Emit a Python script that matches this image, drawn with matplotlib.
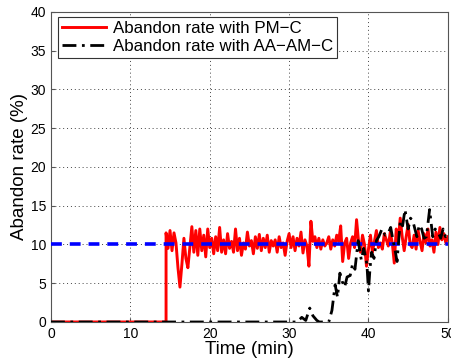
import matplotlib as mpl
mpl.use('Agg')
import matplotlib.pyplot as plt
import numpy as np

plt.rcParams['font.family'] = ['Liberation Sans', 'DejaVu Sans']

# PM-C abandon rate, 0.25 min samples starting at 14.5 min
pmc_start = 14.5
pmc_step = 0.25
pmc_rate = [
    11.5, 9.5, 11.8, 9.2, 11.5, 10.2,
    7.0, 4.5, 7.5, 10.8, 8.2, 7.0, 9.6, 12.3,
    9.0, 11.8, 8.6, 12.0, 9.2, 11.2, 8.4, 12.0,
    9.6, 10.8, 8.8, 11.0, 9.2, 12.2, 9.0, 10.6,
    8.8, 11.4, 9.5, 10.4, 9.0, 12.0, 9.2, 10.8,
    8.6, 10.2, 9.4, 11.6, 9.8, 10.5, 8.8, 11.0,
    9.5, 11.3, 9.2, 10.8, 9.6, 11.2, 9.0, 10.5,
    9.8, 10.6, 9.0, 11.0, 9.6, 10.2, 8.6, 10.4,
    11.4, 9.6, 11.0, 9.2, 10.8, 9.8, 11.6, 8.9,
    10.6, 9.8, 7.2, 13.0, 10.4, 11.0, 9.6, 10.8,
    9.4, 10.6, 9.8, 10.2, 11.0, 9.4, 10.6, 9.8,
    11.2, 10.4, 12.4, 7.8, 10.2, 10.8, 8.2, 10.2,
    11.0, 9.6, 13.2, 10.4, 9.0, 11.2, 10.0, 7.2,
    9.4, 11.2, 9.0, 10.4, 11.8, 9.6, 10.2, 9.4,
    11.4, 10.6, 9.8, 11.6, 10.2, 7.6, 12.0, 10.4,
    13.4, 11.0, 9.2, 11.0, 12.6, 10.0, 9.6, 11.2,
    9.4, 11.8, 10.4, 9.2, 11.4, 10.2, 12.0, 9.8,
    10.6, 9.0, 11.6, 10.0, 12.2, 10.6, 11.4, 10.2,
    11.0,
]

# AA-AM-C abandon rate
aam_time = [0, 31.0, 31.6, 32.1, 32.6, 33.0, 33.5, 33.8, 35.0, 35.4, 35.8,
            36.1, 36.4, 36.7, 37.0, 37.3, 37.7, 38.0, 38.3, 38.7, 39.1, 39.4,
            39.8, 40.0, 40.2, 40.4, 40.7, 41.0, 41.3, 41.7, 42.1, 42.5, 42.8,
            43.1, 43.4, 43.6, 44.0, 44.3, 44.6, 45.0, 45.3, 45.6, 46.1, 46.4,
            46.7, 47.0, 47.3, 47.7, 48.1, 48.4, 48.8, 49.1, 49.4, 49.7, 50.0]
aam_rate = [0, 0, 0.6, 0.2, 1.8, 0.8, 0.2, 0, 0, 1.5, 4.8,
            3.2, 6.3, 5.2, 4.5, 5.8, 6.0, 7.5, 6.8, 10.5, 8.0, 9.5,
            7.5, 4.0, 7.0, 9.0, 8.2, 10.5, 11.0, 12.0, 11.2, 11.5, 12.2,
            10.5, 9.0, 7.8, 13.0, 12.4, 14.5, 12.0, 13.4, 13.0, 11.0, 12.5,
            12.0, 10.8, 11.0, 14.5, 11.0, 12.0, 11.5, 10.8, 12.0, 11.0, 11.5]

target_rate = 10

pmc_time = [0, pmc_start] + list(pmc_start + pmc_step * np.arange(len(pmc_rate)))
pmc_vals = [0, 0] + pmc_rate

fig = plt.figure(figsize=(4.51, 3.63), dpi=100)
ax = fig.add_axes([0.113, 0.113, 0.88, 0.854])

ax.plot([0, 50], [target_rate, target_rate], color='#0000ff', lw=2.6,
        ls=(0, (3, 2.2)), zorder=3)
ax.plot(pmc_time, pmc_vals, color='#ff0000', lw=2.1, zorder=2,
        label='Abandon rate with PM\u2212C')
ax.plot(aam_time, aam_rate, color='black', lw=2.0, ls=(0, (5, 2, 1, 2)),
        zorder=4, label='Abandon rate with AA\u2212AM\u2212C')

ax.set_xlim(0, 50)
ax.set_ylim(0, 40)
ax.set_xticks(range(0, 51, 10))
ax.set_yticks(range(0, 41, 5))
ax.tick_params(labelsize=10, direction='in', length=3, color='#555555')
ax.grid(True, ls=(0, (1, 3)), color='#444444', lw=0.7)
for s in ax.spines.values():
    s.set_color('#555555')
    s.set_linewidth(0.8)

ax.set_xlabel('Time (min)', fontsize=13.5, labelpad=0)
ax.set_ylabel('Abandon rate (%)', fontsize=13.5, labelpad=2)

leg = ax.legend(loc='upper left', bbox_to_anchor=(0.017, 0.985), fontsize=12.2,
                fancybox=False, framealpha=1, edgecolor='#333333',
                handlelength=2.6, borderpad=0.25, labelspacing=0.2,
                handletextpad=0.4, borderaxespad=0)
leg.get_frame().set_linewidth(0.8)

fig.savefig('out.png', dpi=100)
